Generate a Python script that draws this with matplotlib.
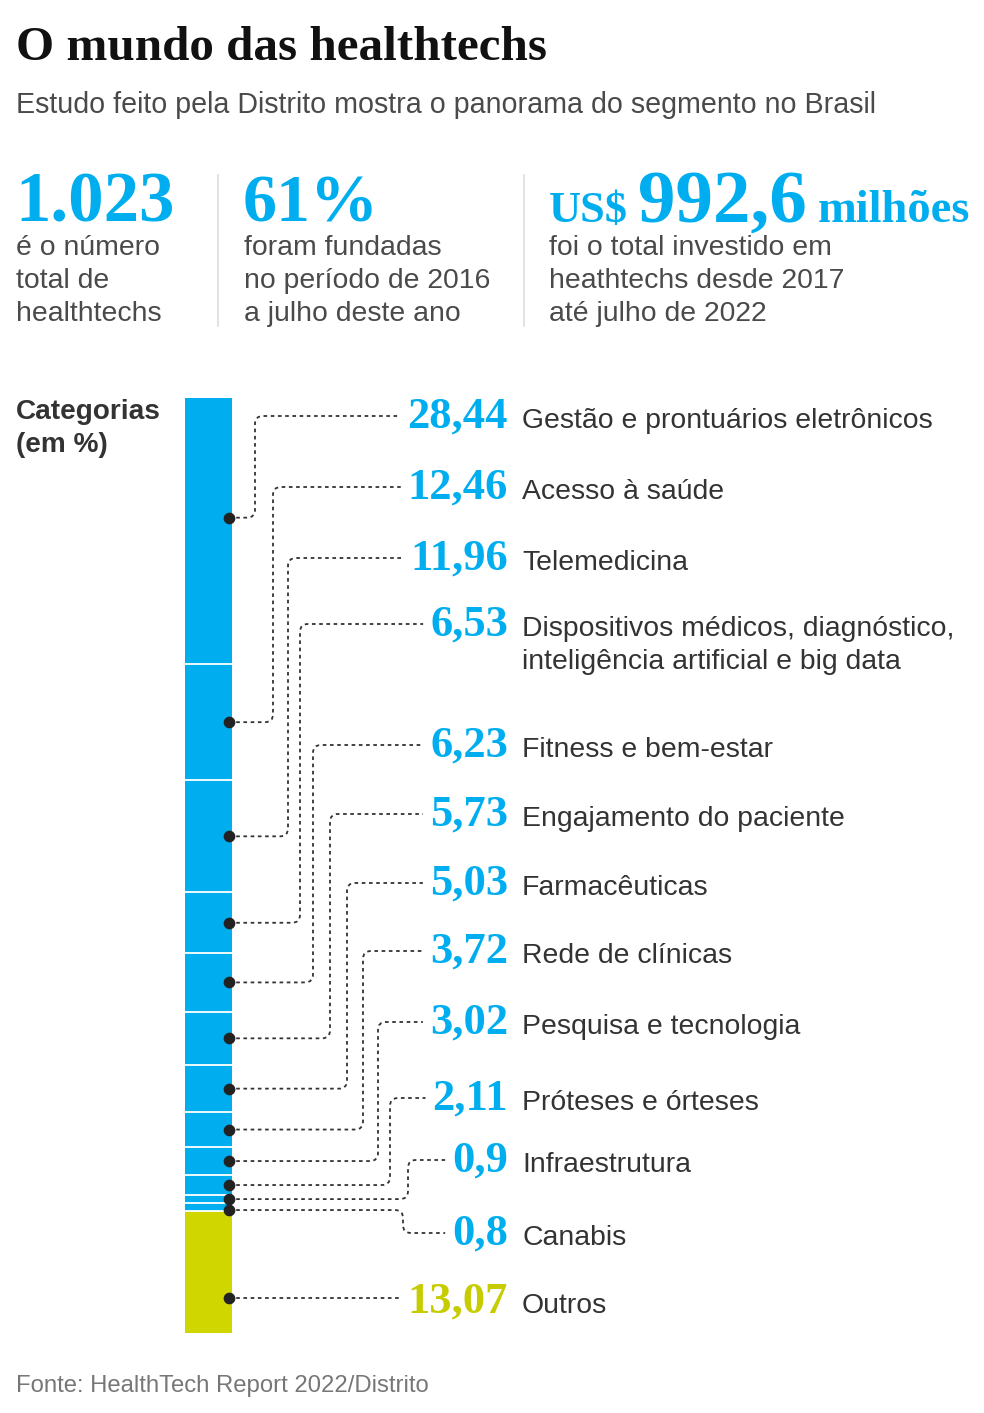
import matplotlib
matplotlib.use('Agg')
import matplotlib.pyplot as plt
from matplotlib.path import Path
from matplotlib.patches import PathPatch

# ---------------- data ----------------
categories = [
    "Gestão e prontuários eletrônicos",
    "Acesso à saúde",
    "Telemedicina",
    "Dispositivos médicos, diagnóstico,\ninteligência artificial e big data",
    "Fitness e bem-estar",
    "Engajamento do paciente",
    "Farmacêuticas",
    "Rede de clínicas",
    "Pesquisa e tecnologia",
    "Próteses e órteses",
    "Infraestrutura",
    "Canabis",
    "Outros",
]
values = [28.44, 12.46, 11.96, 6.53, 6.23, 5.73, 5.03, 3.72, 3.02, 2.11, 0.9, 0.8, 13.07]
value_labels = ["28,44", "12,46", "11,96", "6,53", "6,23", "5,73", "5,03",
                "3,72", "3,02", "2,11", "0,9", "0,8", "13,07"]
is_other = [False] * 12 + [True]

stat_numbers = ["1.023", "61%", "992,6"]
stat_texts = ["é o número\ntotal de\nhealthtechs",
              "foram fundadas\nno período de 2016\na julho deste ano",
              "foi o total investido em\nheathtechs desde 2017\naté julho de 2022"]

title = "O mundo das healthtechs"
subtitle = "Estudo feito pela Distrito mostra o panorama do segmento no Brasil"
source = "Fonte: HealthTech Report 2022/Distrito"

# ---------------- style / layout ----------------
CYAN = "#00aeef"
LIME = "#d0d600"
LIME_TXT = "#c6cc00"
DARK = "#333333"
GRAY = "#4a4a4a"
SERIF = ["Liberation Serif", "DejaVu Serif"]
SANS = ["Liberation Sans", "DejaVu Sans"]

W, H = 984, 1413
fig = plt.figure(figsize=(W / 100, H / 100), dpi=100)
ax = fig.add_axes([0, 0, 1, 1])
ax.set_xlim(0, W)
ax.set_ylim(H, 0)
ax.axis("off")
ax.set_zorder(3)
renderer = fig.canvas.get_renderer()

def width_px(t):
    return t.get_window_extent(renderer).width

# title & subtitle
ax.text(16, 60, title, family=SERIF, weight="bold", fontsize=35.4, color="#111111", va="baseline")
ax.text(16, 113, subtitle, family=SANS, fontsize=20.6, color=GRAY, va="baseline")

# top stats
ax.text(15, 222, stat_numbers[0], family=SERIF, weight="bold", fontsize=51, color=CYAN, va="baseline")
ax.text(243, 222, stat_numbers[1], family=SERIF, weight="bold", fontsize=49, color=CYAN, va="baseline")
t1 = ax.text(549, 222, "US$", family=SERIF, weight="bold", fontsize=32, color=CYAN, va="baseline")
x2 = 549 + width_px(t1) + 10
t2 = ax.text(x2, 222, stat_numbers[2], family=SERIF, weight="bold", fontsize=54, color=CYAN, va="baseline")
x3 = x2 + width_px(t2) + 11
ax.text(x3, 222, "milhões", family=SERIF, weight="bold", fontsize=33.5, color=CYAN, va="baseline")

for x, txt in zip([16, 244, 549], stat_texts):
    for i, line in enumerate(txt.split("\n")):
        ax.text(x, 255 + 33 * i, line, family=SANS, fontsize=20.4, color=GRAY, va="baseline")

for xs in [218, 524]:
    ax.plot([xs, xs], [175, 326], color="#dddddd", lw=1.2)

# categories heading
ax.text(16, 419, "Categorias", family=SANS, weight="bold", fontsize=20.2, color=DARK, va="baseline")
ax.text(16, 452, "(em %)", family=SANS, weight="bold", fontsize=20.2, color=DARK, va="baseline")

# stacked bar in its own axes (percent scale)
BAR_L, BAR_R, BAR_T, BAR_B = 185, 232, 398, 1333
bx = fig.add_axes([BAR_L / W, 1 - BAR_B / H, (BAR_R - BAR_L) / W, (BAR_B - BAR_T) / H])
bx.set_zorder(1)
bx.set_xlim(-0.5, 0.5)
bx.set_ylim(100, 0)
bx.axis("off")
bottoms = []
b = 0.0
for v, oth in zip(values, is_other):
    bx.bar(0, v, bottom=b, width=1.0, color=LIME if oth else CYAN, edgecolor="none")
    bottoms.append(b)
    b += v
for bb in bottoms[1:]:
    bx.axhline(bb, color="white", lw=1.3)

# label layout (pixel baselines)
baselines = [428, 499, 570, 636, 757, 826, 895, 963, 1034, 1110, 1172, 1245, 1313]
vert_x = [255, 273, 288, 300, 313, 330, 347, 363, 378, 390, 408, 403, None]
dot_frac = [0.45] + [0.5] * 10 + [0.9, 0.71]
NUM_R = 508
LAB_L = 522
R = 8

inv = ax.transData.inverted()
for i, (cat, v, lab, oth) in enumerate(zip(categories, values, value_labels, is_other)):
    yb = baselines[i]
    tn = ax.text(NUM_R, yb, lab, family=SERIF, weight="bold", fontsize=32,
                 color=LIME_TXT if oth else CYAN, ha="right", va="baseline")
    for j, line in enumerate(cat.split("\n")):
        ax.text(LAB_L, yb + 33 * j, line, family=SANS, fontsize=20.4, color=DARK, va="baseline")
    x_end = tn.get_window_extent(renderer).x0 - 7
    # dot position converted from bar axes
    ypct = bottoms[i] + v * dot_frac[i]
    disp = bx.transData.transform((0, ypct))
    _, yd = inv.transform(disp)
    xd = 229
    yl = yb - 12
    xv = vert_x[i]
    if xv is None:
        verts = [(xd, yd), (x_end, yd)]
        codes = [Path.MOVETO, Path.LINETO]
    else:
        s = -1 if yl < yd else 1
        verts = [(xd, yd), (xv - R, yd), (xv, yd), (xv, yd + s * R),
                 (xv, yl - s * R), (xv, yl), (xv + R, yl), (x_end, yl)]
        codes = [Path.MOVETO, Path.LINETO, Path.CURVE3, Path.CURVE3,
                 Path.LINETO, Path.CURVE3, Path.CURVE3, Path.LINETO]
    ax.add_patch(PathPatch(Path(verts, codes), fill=False, edgecolor=DARK,
                           lw=1.3, linestyle=(0, (2, 2)), zorder=3))
    ax.scatter([xd], [yd], s=55, color="#222222", zorder=4, clip_on=False)

# source
ax.text(16, 1392, source, family=SANS, fontsize=17.2, color="#777777", va="baseline")

fig.savefig("out.png", dpi=100)
